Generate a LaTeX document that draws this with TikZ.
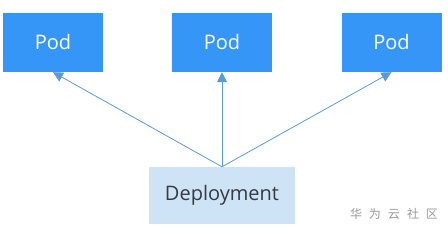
\documentclass[tikz,border=0pt]{standalone}
\usepackage{fontspec}
\setmainfont{Open Sans}
\newfontfamily\cjk{Noto Sans CJK SC}
\usetikzlibrary{arrows.meta}
\definecolor{podblue}{HTML}{3596F8}
\definecolor{deplblue}{HTML}{CFE3F7}
\definecolor{linkblue}{HTML}{5B9BD5}
\definecolor{marktext}{HTML}{9A9A9A}
\definecolor{depltext}{HTML}{333B45}
\tikzset{
  podbox/.style={fill=podblue, text=white, minimum width=100pt, minimum height=59pt,
    inner sep=0pt, font=\fontsize{20}{22}\selectfont},
  deplbox/.style={fill=deplblue, text=depltext, minimum width=146pt, minimum height=57pt,
    inner sep=0pt, font=\fontsize{20}{22}\selectfont},
  link/.style={draw=linkblue, line width=0.8pt, -{Triangle[length=10pt,width=10pt]}}
}
\newcommand{\gap}{\hspace{7pt}}
\begin{document}
\begin{tikzpicture}[x=1pt,y=-1pt]
\useasboundingbox (0,0) rectangle (448,235);
% Pod 层
\node[podbox] (podL) at (53,42.5) {Pod};
\node[podbox] (podM) at (222,42.5) {Pod};
\node[podbox] (podR) at (391.5,42.5) {Pod};

% Deployment
\node[deplbox] (depl) at (222,195.5) {Deployment};

% 水印
\node[text=marktext, inner sep=0pt, font=\cjk\fontsize{12}{12}\selectfont] (mark) at (394,213.5)
  {华\gap 为\gap 云\gap 社\gap 区};

% ========== 连线 ==========
\draw[link] (depl.north) -- (podL.south);
\draw[link] (depl.north) -- (podM.south);
\draw[link] (depl.north) -- (podR.south);
\end{tikzpicture}
\end{document}
